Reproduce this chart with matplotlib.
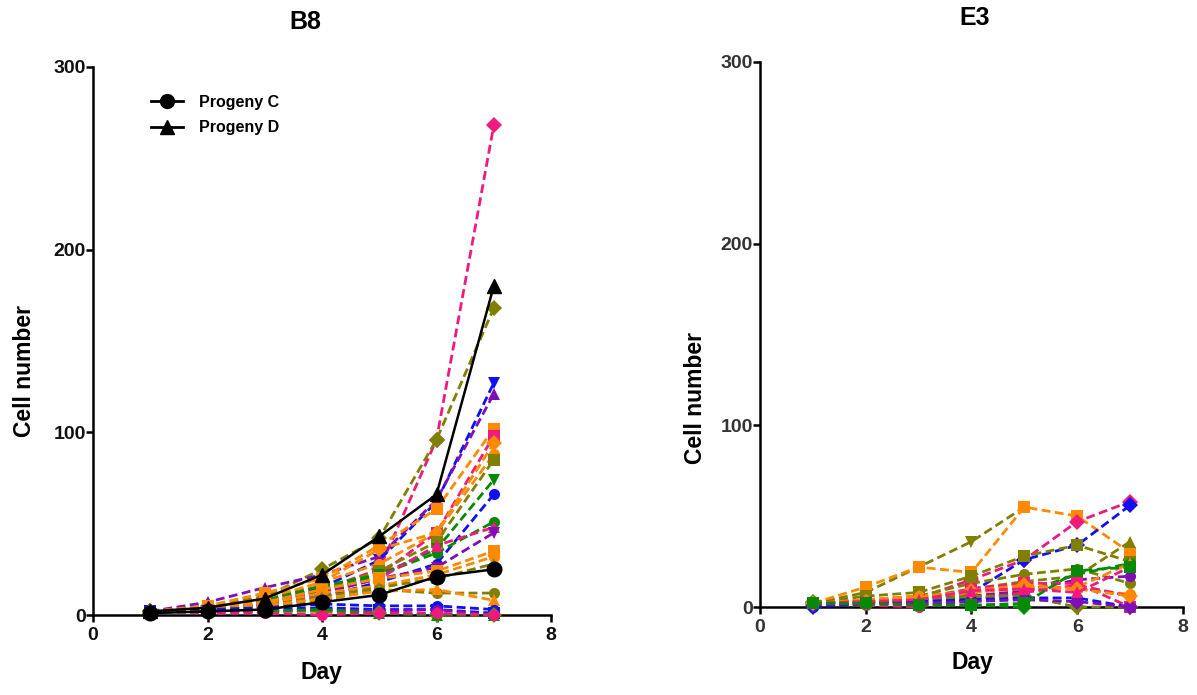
import matplotlib
matplotlib.use("Agg")
import matplotlib.pyplot as plt
import numpy as np
from matplotlib.lines import Line2D

plt.rcParams['font.family'] = ['Liberation Sans', 'DejaVu Sans']
plt.rcParams['font.weight'] = 'bold'

days = [1, 2, 3, 4, 5, 6, 7]

PINK = "#F0197D"
OLIVE = "#808000"
BLUE = "#1010F0"
PURPLE = "#7E0FB8"
ORANGE = "#FF8A00"
GREEN = "#068A06"

# ---- B8 panel: individual lineages (colour, marker, values) ----
b8_colors = [PINK, OLIVE, BLUE, PURPLE, ORANGE, PINK, ORANGE, ORANGE, OLIVE, GREEN,
             BLUE, GREEN, PINK, PURPLE, ORANGE, ORANGE, OLIVE, OLIVE, ORANGE, BLUE,
             BLUE, PURPLE, OLIVE, GREEN, PINK]
b8_markers = ['D', 'D', 'v', '^', 's', 's', 'D', 'o', 's', 'v',
              'o', 'o', '^', 'v', 's', 'o', '^', 'o', '^', 'o',
              's', 'o', 'D', '^', 'o']
b8_values = [
    [2, 4, 7, 14, 25, 96, 268],
    [2, 5, 10, 25, 42, 96, 168],
    [2, 4, 8, 15, 30, 62, 127],
    [2, 7, 15, 22, 32, 63, 121],
    [2, 5, 12, 20, 38, 58, 102],
    [2, 3, 6, 12, 22, 45, 98],
    [2, 4, 8, 18, 36, 45, 94],
    [2, 4, 9, 18, 28, 45, 88],
    [2, 3, 6, 14, 24, 40, 85],
    [2, 3, 6, 13, 22, 36, 74],
    [2, 3, 5, 10, 18, 28, 66],
    [2, 4, 8, 16, 22, 34, 51],
    [2, 3, 5, 12, 20, 38, 48],
    [2, 3, 6, 12, 20, 26, 45],
    [2, 4, 7, 14, 20, 24, 35],
    [2, 3, 6, 12, 16, 22, 32],
    [2, 3, 5, 10, 15, 20, 28],
    [2, 3, 4, 8, 14, 12, 12],
    [2, 3, 5, 9, 13, 14, 8],
    [2, 3, 4, 6, 5, 5, 3],
    [2, 2, 3, 4, 3, 3, 1],
    [2, 2, 2, 3, 2, 3, 0],
    [2, 2, 2, 2, 1, 0, 0],
    [2, 2, 2, 3, 1, 0, 0],
    [2, 1, 1, 0, 1, 1, 0],
]
progeny_c = [1, 2, 3, 7, 11, 21, 25]
progeny_d = [2, 4, 9, 22, 43, 66, 180]

# ---- E3 panel ----
e3_colors = [OLIVE, ORANGE, PINK, BLUE, OLIVE, OLIVE, OLIVE, GREEN, PURPLE, ORANGE,
             ORANGE, PINK, PINK, OLIVE, GREEN, BLUE, PURPLE, ORANGE, PINK, GREEN]
e3_markers = ['v', 's', 'D', 'D', 's', 'o', '^', 'o', 'o', '^',
              'o', 's', 'o', 'D', 'D', 'o', 'D', 'D', '^', 's']
e3_values = [
    [2, 8, 22, 36, 55, np.nan, np.nan],
    [2, 11, 22, 19, 55, 50, 30],
    [2, 3, 5, 15, 26, 47, 58],
    [0, 2, 4, 8, 26, 34, 56],
    [2, 6, 8, 17, 28, 34, 25],
    [2, 4, 6, 13, 18, 21, 13],
    [2, 3, 5, 10, 14, 17, 36],
    [2, 3, 3, 5, 8, 18, 24],
    [2, 3, 4, 6, 9, 15, 17],
    [2, 3, 5, 8, 10, 11, 24],
    [2, 4, 6, 8, 11, 10, 7],
    [2, 3, 4, 10, 13, 13, 0],
    [2, 1, 0, 4, 8, 12, 6],
    [2, 3, 4, 6, 6, 0, 0],
    [3, 2, 2, 1, 0, np.nan, np.nan],
    [0, 2, 3, 4, 5, 5, 0],
    [1, 2, 2, 3, 4, 3, 0],
    [2, 3, 5, 9, 12, 10, 6],
    [2, 3, 4, 9, 10, 8, 22],
    [2, 2, 1, 1, 2, 20, 22],
]

x_ticks = [0, 2, 4, 6, 8]
y_ticks = [0, 100, 200, 300]

fig = plt.figure(figsize=(11.97, 6.95), dpi=100)
W, H = 1197, 695
axL = fig.add_axes([93 / W, 1 - 615 / H, (551 - 93) / W, (615 - 67) / H])
axR = fig.add_axes([760 / W, 1 - 607 / H, (1183 - 760) / W, (607 - 62) / H])


def style(ax, tickcolor):
    ax.set_xlim(0, 8)
    ax.set_ylim(0, 300)
    ax.set_xticks(x_ticks)
    ax.set_yticks(y_ticks)
    for s in ['top', 'right']:
        ax.spines[s].set_visible(False)
    for s in ['left', 'bottom']:
        ax.spines[s].set_linewidth(1.8)
        ax.spines[s].set_color('black')
    ax.tick_params(axis='both', direction='out', length=5, width=1.8,
                   labelsize=14, labelcolor=tickcolor)
    ax.tick_params(axis='y', pad=0)
    ax.tick_params(axis='x', pad=4)
    for lab in ax.get_xticklabels() + ax.get_yticklabels():
        lab.set_fontweight('bold')


def draw_series(ax, colors, markers, values):
    for c, m, v in zip(colors, markers, values):
        ax.plot(days, v, color=c, marker=m, markersize=8, linestyle=(0, (3.2, 1.6)),
                linewidth=2.0, markeredgewidth=0, clip_on=False, zorder=3)


draw_series(axL, b8_colors, b8_markers, b8_values)
axL.plot(days, progeny_c, color='black', marker='o', markersize=10.5, linewidth=1.8,
         clip_on=False, zorder=5)
axL.plot(days, progeny_d, color='black', marker='^', markersize=10.5, linewidth=1.8,
         clip_on=False, zorder=5)
style(axL, '#111111')

draw_series(axR, e3_colors, e3_markers, e3_values)
style(axR, '#333333')

handles = [Line2D([0], [0], color='black', marker='o', markersize=10, linewidth=2),
           Line2D([0], [0], color='black', marker='^', markersize=10, linewidth=2)]
leg = axL.legend(handles, ['Progeny C', 'Progeny D'], loc='upper left',
                 bbox_to_anchor=(0.095, 0.975), frameon=False, handlelength=2.0,
                 handletextpad=1.0, labelspacing=0.65, prop={'size': 11.5, 'weight': 'bold'})

fig.text(305 / W, 1 - 22 / H, 'B8', ha='center', va='center', fontsize=18, fontweight='bold')
fig.text(975 / W, 1 - 18 / H, 'E3', ha='center', va='center', fontsize=18, fontweight='bold')
fig.text(25 / W, 1 - 371 / H, 'Cell number', rotation=90, ha='center', va='center',
         fontsize=16.5, fontweight='bold')
fig.text(695 / W, 1 - 398 / H, 'Cell number', rotation=90, ha='center', va='center',
         fontsize=16.5, fontweight='bold')
fig.text(321 / W, 1 - 672 / H, 'Day', ha='center', va='center', fontsize=16.5, fontweight='bold')
fig.text(972 / W, 1 - 662 / H, 'Day', ha='center', va='center', fontsize=16.5, fontweight='bold')

fig.savefig('out.png', dpi=100)
